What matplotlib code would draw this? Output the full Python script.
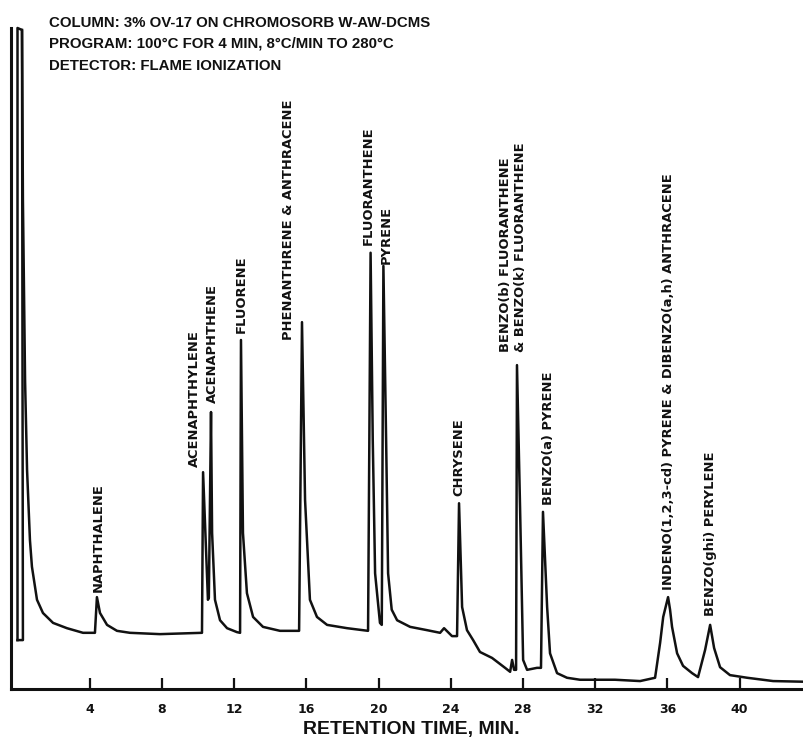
import matplotlib
matplotlib.use('Agg')
import matplotlib.pyplot as plt

# ---- data ----
# retention time (min) and detector response (% of full scale) along the pen trace
time_min = [
    0.00, 0.00, 0.25, 0.30, 0.42, 0.53, 0.69, 0.80, 1.08, 1.41, 1.97, 2.74, 3.63, 4.29,
    4.40, 4.57, 4.96, 5.51, 6.23, 7.89, 10.22,
    10.28, 10.55, 10.60, 10.72, 10.78, 10.94, 11.22, 11.61, 12.16, 12.33,
    12.38, 12.49, 12.71, 13.05, 13.60, 14.54, 15.60,
    15.76, 15.93, 16.20, 16.59, 17.15, 18.26, 19.42,
    19.56, 19.68, 19.81, 20.08, 20.18, 20.27, 20.42, 20.53, 20.73, 21.03, 21.75, 22.69,
    23.41, 23.63, 24.07, 24.35,
    24.46, 24.63, 24.90, 25.24, 25.62, 26.29, 27.01, 27.29, 27.40, 27.51, 27.62,
    27.67, 27.84, 28.01, 28.23, 28.78, 29.00, 29.11, 29.34, 29.50, 29.89, 30.44, 31.16,
    33.10, 34.49, 35.32, 35.60, 35.77,
    36.04, 36.15, 36.26, 36.54, 36.87, 37.37, 37.70, 38.09, 38.37, 38.59, 38.92, 39.47,
    40.42, 41.86, 43.57,
]
response = [
    7.4, 100.0, 99.7, 74.0, 46.6, 33.1, 22.5, 18.5, 13.5, 11.5, 10.0, 9.2, 8.5, 8.5,
    13.9, 11.5, 9.7, 8.8, 8.5, 8.3, 8.5,
    32.8, 13.5, 13.8, 41.9, 23.6, 13.5, 10.4, 9.2, 8.6, 8.5,
    52.8, 23.6, 14.5, 10.9, 9.4, 8.8, 8.8,
    55.5, 28.6, 13.5, 10.9, 9.7, 9.2, 8.8,
    66.0, 37.7, 17.5, 10.0, 9.7, 64.0, 37.7, 17.5, 12.0, 10.4, 9.4, 8.9,
    8.5, 9.2, 8.0, 8.0,
    28.1, 12.4, 8.9, 7.4, 5.6, 4.7, 3.2, 2.6, 4.4, 2.9, 2.9,
    49.0, 27.5, 4.4, 2.9, 3.2, 3.2, 26.8, 12.4, 5.4, 2.4, 1.7, 1.4,
    1.4, 1.2, 1.7, 7.0, 10.9,
    13.9, 12.0, 9.4, 5.4, 3.5, 2.4, 1.8, 5.9, 9.7, 6.2, 3.3, 2.1,
    1.7, 1.2, 1.1,
]

# second pen line of the off-scale solvent peak
solvent_time = [0.25, 0.30, 0.00]
solvent_resp = [99.7, 7.4, 7.4]

peak_names = [
    'NAPHTHALENE', 'ACENAPHTHYLENE', 'ACENAPHTHENE', 'FLUORENE',
    'PHENANTHRENE & ANTHRACENE', 'FLUORANTHENE', 'PYRENE', 'CHRYSENE',
    'BENZO(b) FLUORANTHENE', '& BENZO(k) FLUORANTHENE', 'BENZO(a) PYRENE',
    'INDENO(1,2,3-cd) PYRENE & DIBENZO(a,h) ANTHRACENE', 'BENZO(ghi) PERYLENE',
]

x_ticks = [4, 8, 12, 16, 20, 24, 28, 32, 36, 40]

header = [
    'COLUMN: 3% OV-17 ON CHROMOSORB W-AW-DCMS',
    'PROGRAM: 100°C FOR 4 MIN, 8°C/MIN TO 280°C',
    'DETECTOR: FLAME IONIZATION',
]
x_title = 'RETENTION TIME, MIN.'

# ---- layout ----
# where each peak label starts (time, response), just above its peak
label_pos = [
    (4.46, 14.7), (9.78, 33.6), (10.78, 43.3), (12.38, 53.9),
    (15.04, 52.8), (19.42, 67.2), (20.42, 64.3), (24.46, 29.2),
    (27.01, 51.0), (27.89, 51.0), (29.39, 27.8),
    (36.04, 15.0), (38.37, 11.0),
]
header_y = [27.0, 47.5, 69.5]   # baselines in pixels from top

INK = '#111111'
sans = ['Liberation Sans', 'DejaVu Sans']

W, H = 804, 739
AX_BOTTOM, AX_TOP = 689, 28
fig = plt.figure(figsize=(W / 100, H / 100), dpi=100)
fig.patch.set_facecolor('white')
ax = fig.add_axes([11 / W, (H - AX_BOTTOM) / H, 793 / W, (AX_BOTTOM - AX_TOP) / H])

ax.plot(time_min, response, color=INK, lw=1.8, solid_joinstyle='round', clip_on=False)
ax.plot(solvent_time, solvent_resp, color=INK, lw=1.8, clip_on=False)

ax.set_xlim(-0.36, 43.57)
ax.set_ylim(0, 100)
for side in ('top', 'right'):
    ax.spines[side].set_visible(False)
for side in ('left', 'bottom'):
    ax.spines[side].set_linewidth(2.2)
    ax.spines[side].set_color(INK)

ax.set_yticks([])
ax.set_xticks(x_ticks)
ax.set_xticklabels([str(t) for t in x_ticks], fontsize=9, fontweight='bold',
                   family='DejaVu Sans', color=INK)
ax.tick_params(axis='x', direction='in', length=8, width=1.6, pad=10, color=INK)

for name, (t, r) in zip(peak_names, label_pos):
    ax.text(t, r, name, rotation=90, ha='center', va='bottom', fontsize=9.4,
            fontweight='bold', family='DejaVu Sans', color=INK)

for line, yb in zip(header, header_y):
    fig.text(49 / W, 1 - yb / H, line, ha='left', va='baseline', fontsize=10.8,
             fontweight='bold', family=sans, color=INK)

fig.text(411 / W, 1 - 734 / H, x_title, ha='center', va='baseline', fontsize=14,
         fontweight='bold', family=sans, color=INK)

fig.savefig('out.png', dpi=100, facecolor='white')
